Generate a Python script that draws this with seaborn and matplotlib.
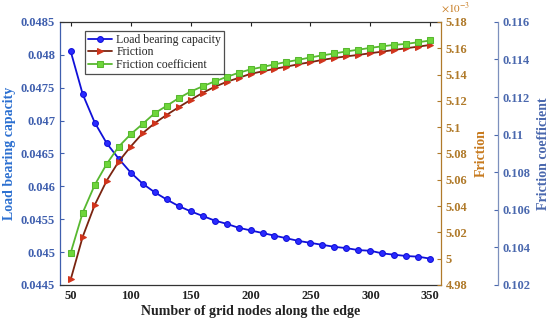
import matplotlib
matplotlib.use('Agg')
import matplotlib.pyplot as plt
import seaborn as sns
from matplotlib.ticker import FuncFormatter, MultipleLocator

# ------------------------------ data ---------------------------------------
nodes = list(range(50, 351, 10))

load_capacity = [0.04805, 0.04740, 0.04697, 0.046655, 0.04642, 0.04621, 0.04604,
                 0.04591, 0.04580, 0.04570, 0.04562, 0.04555, 0.04548, 0.04543,
                 0.04537, 0.04533, 0.04529, 0.04525, 0.04521, 0.04517, 0.04514,
                 0.04511, 0.04508, 0.04506, 0.04503, 0.04502, 0.04498, 0.04496,
                 0.04494, 0.04493, 0.04490]

friction = [4.9843e-3, 5.0167e-3, 5.0408e-3, 5.0593e-3, 5.0738e-3, 5.0852e-3,
            5.0954e-3, 5.1030e-3, 5.1093e-3, 5.1151e-3, 5.1207e-3, 5.1260e-3,
            5.1306e-3, 5.1344e-3, 5.1374e-3, 5.1405e-3, 5.1424e-3, 5.1443e-3,
            5.1460e-3, 5.1478e-3, 5.1494e-3, 5.1511e-3, 5.1526e-3, 5.1538e-3,
            5.1549e-3, 5.1562e-3, 5.1574e-3, 5.1587e-3, 5.1600e-3, 5.1612e-3,
            5.1625e-3]

friction_coef = [0.10372, 0.10585, 0.10732, 0.10844, 0.10936, 0.11002, 0.11057,
                 0.11114, 0.11153, 0.11194, 0.11229, 0.11257, 0.11283, 0.11307,
                 0.11329, 0.11347, 0.11360, 0.11374, 0.11387, 0.11398, 0.11411,
                 0.11422, 0.11432, 0.11443, 0.11452, 0.11462, 0.11470, 0.11478,
                 0.11483, 0.11492, 0.11501]

x_ticks = [50, 100, 150, 200, 250, 300, 350]

# colours
c_load = '#1010d8'
c_load_axis = '#3f5fae'
c_load_label = '#2b6fd0'
c_fric_line = '#7a2410'
c_fric_mark = '#d0341c'
c_fric_axis = '#b07a2a'
c_fric_label = '#c77a1e'
c_coef_line = '#58b830'
c_coef_mark = '#6ed63a'
c_coef_axis = '#7d90bd'
c_coef_label = '#4a68ae'

sns.set_theme(style='white')
plt.rcParams['font.family'] = ['Liberation Serif', 'DejaVu Serif']
plt.rcParams['mathtext.fontset'] = 'stix'

fig = plt.figure(figsize=(5.5, 3.22), dpi=100)
ax = fig.add_axes([0.109, 0.115, 0.693, 0.817])
ax2 = ax.twinx()
ax3 = ax.twinx()
ax3.spines['right'].set_position(('axes', 1.149))

# ------------------------------ lines --------------------------------------
sns.lineplot(x=nodes, y=load_capacity, ax=ax, color=c_load, marker='o',
             markersize=4.2, markerfacecolor='#2a2aff', markeredgecolor=c_load,
             linewidth=1.3, zorder=5)
sns.lineplot(x=nodes, y=friction, ax=ax2, color=c_fric_line, marker='>',
             markersize=4.8, markerfacecolor=c_fric_mark, markeredgecolor=c_fric_mark,
             linewidth=1.3)
sns.lineplot(x=nodes, y=friction_coef, ax=ax3, color=c_coef_line, marker='s',
             markersize=4.2, markerfacecolor=c_coef_mark, markeredgecolor=c_coef_line,
             linewidth=1.3)

# ------------------------------ axes ---------------------------------------
ax.set_xlim(41, 359)
ax.set_xticks(x_ticks)
ax.set_ylim(0.0445, 0.0485)
ax.yaxis.set_major_locator(MultipleLocator(0.0005))
ax2.set_ylim(4.98e-3, 5.18e-3)
ax2.yaxis.set_major_locator(MultipleLocator(0.02e-3))
ax3.set_ylim(0.102, 0.116)
ax3.yaxis.set_major_locator(MultipleLocator(0.002))

ax.yaxis.set_major_formatter(FuncFormatter(lambda v, p: f'{v:g}'))
ax2.yaxis.set_major_formatter(FuncFormatter(lambda v, p: f'{round(v * 1e3, 4):g}'))
ax3.yaxis.set_major_formatter(FuncFormatter(lambda v, p: f'{round(v, 4):g}'))

ax.tick_params(axis='x', direction='in', length=3, top=True, labelsize=9,
               colors='#222222', width=0.8)
ax.tick_params(axis='y', direction='in', length=3, labelsize=9,
               colors=c_load_axis, width=0.8)
ax2.tick_params(axis='y', direction='in', length=3, labelsize=9,
                colors=c_fric_axis, width=0.8)
ax3.tick_params(axis='y', direction='in', length=3, labelsize=9,
                colors=c_coef_label, width=0.8)
for lab in ax.get_xticklabels() + ax.get_yticklabels() + ax2.get_yticklabels() + ax3.get_yticklabels():
    lab.set_fontweight('bold')

for a in (ax, ax2, ax3):
    for s in a.spines.values():
        s.set_linewidth(0.9)
ax.spines['left'].set_color(c_load_axis)
ax.spines['bottom'].set_color('#333333')
ax.spines['top'].set_color('#333333')
ax2.spines['right'].set_color(c_fric_axis)
ax3.spines['right'].set_color(c_coef_axis)
for a in (ax2, ax3):
    a.spines['left'].set_visible(False)
    a.spines['top'].set_visible(False)
    a.spines['bottom'].set_visible(False)
ax.spines['right'].set_visible(False)

ax.set_xlabel('Number of grid nodes along the edge', fontsize=10,
              fontweight='bold', color='#222222', labelpad=2)
ax.set_ylabel('Load bearing capacity', fontsize=10, fontweight='bold',
              color=c_load_label)
ax.yaxis.set_label_coords(-0.115, 0.5)
ax2.set_ylabel('Friction', fontsize=10, fontweight='bold', color=c_fric_label)
ax2.yaxis.set_label_coords(1.089, 0.5)
ax3.set_ylabel('Friction coefficient', fontsize=10, fontweight='bold',
               color=c_coef_label)
ax3.yaxis.set_label_coords(1.251, 0.5)

ax2.text(1.0, 1.028, r'$\times10^{-3}$', transform=ax2.transAxes,
         ha='left', va='bottom', fontsize=8, color=c_fric_label)

# ------------------------------ legend -------------------------------------
handles = [ax.get_lines()[0], ax2.get_lines()[0], ax3.get_lines()[0]]
labels = ['Load bearing capacity', 'Friction', 'Friction coefficient']
leg = ax3.legend(handles, labels, loc='upper left', bbox_to_anchor=(0.066, 0.966),
                 borderaxespad=0, fontsize=8.5, frameon=True, fancybox=False,
                 handlelength=2.0, handletextpad=0.4, borderpad=0.25,
                 labelspacing=0.05)
leg.get_frame().set_edgecolor('#222222')
leg.get_frame().set_linewidth(0.9)

fig.savefig('out.png', dpi=100)
